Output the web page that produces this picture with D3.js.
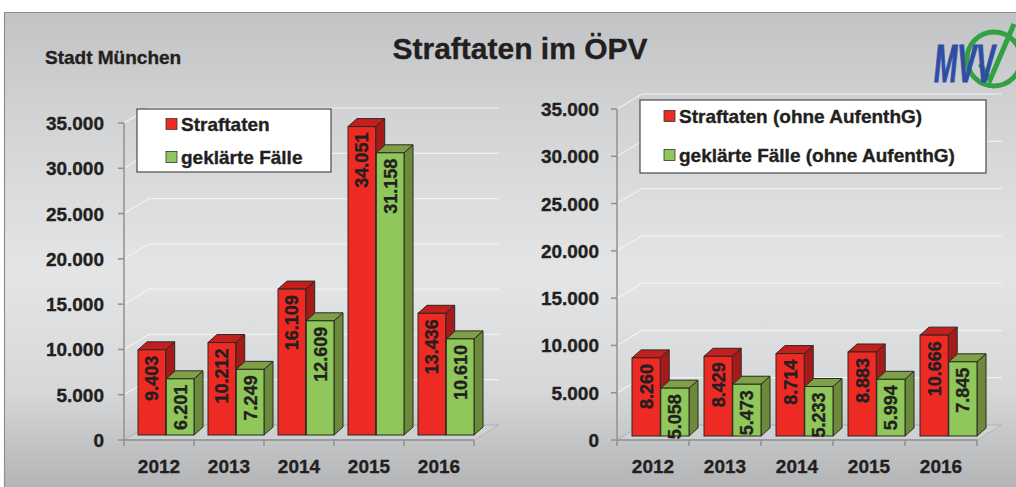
<!DOCTYPE html>
<html><head><meta charset="utf-8">
<script src="https://cdn.jsdelivr.net/npm/d3@7"></script>
<style>
html,body{margin:0;padding:0;background:#fff;}
svg{display:block;font-family:"Liberation Sans",Arial,sans-serif;}
svg text.t{stroke:#231f20;stroke-width:0.35px;}
</style></head>
<body>
<svg id="chart" width="1016" height="487"></svg>
<script>
// ---- data ----
const years = ["2012","2013","2014","2015","2016"];
const straftaten = [9403, 10212, 16109, 34051, 13436];
const geklaert = [6201, 7249, 12609, 31158, 10610];
const straftatenOhne = [8260, 8429, 8714, 8883, 10666];
const geklaertOhne = [5058, 5473, 5233, 5994, 7845];
const yTicks = [0, 5000, 10000, 15000, 20000, 25000, 30000, 35000];
const legendLeft = ["Straftaten", "geklärte Fälle"];
const legendRight = ["Straftaten (ohne AufenthG)", "geklärte Fälle (ohne AufenthG)"];
const title = "Straftaten im ÖPV";
const subtitle = "Stadt München";

const de = d3.formatLocale({decimal: ",", thousands: ".", grouping: [3], currency: ["", " €"]});
const fmt = de.format(",d");

const svg = d3.select("#chart");
const defs = svg.append("defs");
const bg = defs.append("linearGradient").attr("id","bg").attr("x1",0).attr("y1",0).attr("x2",0).attr("y2",1);
[[0,"#c2c3c5"],[0.22,"#d2d3d5"],[0.55,"#e4e5e6"],[0.8,"#d6d7d9"],[1,"#b3b4b6"]].forEach(([o,c])=>bg.append("stop").attr("offset",o).attr("stop-color",c));

svg.append("rect").attr("x",4).attr("y",12).attr("width",1012).attr("height",475).attr("fill","url(#bg)");
svg.append("path").attr("d","M4.5,487 V12.5 H1016").attr("fill","none").attr("stroke","#8e8f91").attr("stroke-width",1.2);

const ink = "#231f20";
const colors = {
  red: {front:"#ee2a24", top:"#c21f1e", side:"#a51b1b"},
  green: {front:"#8fc75a", top:"#7f9f48", side:"#6c8a3c"}
};
const depth = {dx: 9, dy: -8};
const floorD = {dx: 25, dy: -15};

function panel(cfg){
  const g = svg.append("g");
  const x = d3.scaleBand().domain(years).range([cfg.x0, cfg.x1]).padding(0);
  const y = d3.scaleLinear().domain([0, 35000]).range([440, cfg.yTop]);
  const sub = d3.scaleBand().domain(["a","b"]).range(cfg.sub).paddingInner(0.02);

  // floor
  g.append("path")
    .attr("d", `M${cfg.x0},440 L${cfg.x1},440 L${cfg.x1+floorD.dx},${440+floorD.dy} L${cfg.x0+floorD.dx},${440+floorD.dy} Z`)
    .attr("fill","#cfd0d2").attr("stroke","#b4b5b7").attr("stroke-width",1);

  // gridlines (side wall + back wall)
  yTicks.forEach(v=>{
    const yy = y(v);
    g.append("path")
      .attr("d", `M${cfg.x0},${yy} L${cfg.x0+floorD.dx},${yy+floorD.dy} L${cfg.x1+floorD.dx},${yy+floorD.dy}`)
      .attr("fill","none").attr("stroke", v===0 ? "#b8b9bb" : "#f4f4f4").attr("stroke-width",1.2).attr("opacity",0.9);
  });

  // legend
  const lg = g.append("g");
  lg.append("rect").attr("x",cfg.leg.x).attr("y",cfg.leg.y).attr("width",cfg.leg.w).attr("height",cfg.leg.h)
    .attr("fill","#fff").attr("stroke","#4a4a4a").attr("stroke-width",1.2);
  cfg.legendNames.forEach((name,i)=>{
    const cy = cfg.leg.rows[i];
    lg.append("rect").attr("x",cfg.leg.mx).attr("y",cy-5.5).attr("width",11).attr("height",11)
      .attr("fill", i===0 ? colors.red.front : colors.green.front).attr("stroke","#333").attr("stroke-width",0.8);
    lg.append("text").attr("class","t").attr("x",cfg.leg.mx+15).attr("y",cy+7).text(name)
      .attr("font-size",19).attr("font-weight","bold").attr("fill",ink);
  });

  // y axis
  g.append("line").attr("x1",cfg.x0).attr("x2",cfg.x0).attr("y1",y(35000)).attr("y2",440)
    .attr("stroke","#8f9092").attr("stroke-width",1.5);
  yTicks.forEach(v=>{
    g.append("line").attr("x1",cfg.x0-6).attr("x2",cfg.x0).attr("y1",y(v)).attr("y2",y(v))
      .attr("stroke","#8f9092").attr("stroke-width",1.5);
    g.append("text").attr("class","t").attr("x",cfg.labelX).attr("y",y(v)+7).attr("text-anchor","end")
      .attr("font-size",19).attr("font-weight","bold").attr("fill",ink).text(fmt(v));
  });
  // x axis
  g.append("line").attr("x1",cfg.x0).attr("x2",cfg.x1).attr("y1",440).attr("y2",440)
    .attr("stroke","#8f9092").attr("stroke-width",1.5);
  [...years.map(d=>x(d)), cfg.x1].forEach(xx=>{
    g.append("line").attr("x1",xx).attr("x2",xx).attr("y1",440).attr("y2",446)
      .attr("stroke","#8f9092").attr("stroke-width",1.5);
  });
  years.forEach(yr=>{
    g.append("text").attr("class","t").attr("x",x(yr)+x.bandwidth()/2).attr("y",473).attr("text-anchor","middle")
      .attr("font-size",19).attr("font-weight","bold").attr("fill",ink).text(yr);
  });

  // bars
  const base = 440 + cfg.barLift;
  years.forEach((yr,i)=>{
    [[cfg.s1[i],"a",colors.red],[cfg.s2[i],"b",colors.green]].forEach(([val,key,col])=>{
      const bx = x(yr) + sub(key), bw = sub.bandwidth();
      const top = y(val) + cfg.barLift;
      const bg2 = g.append("g");
      bg2.append("path").attr("d",`M${bx+bw},${top} L${bx+bw+depth.dx},${top+depth.dy} L${bx+bw+depth.dx},${base+depth.dy} L${bx+bw},${base} Z`)
        .attr("fill",col.side).attr("stroke","#2a2a20").attr("stroke-width",1).attr("stroke-linejoin","round");
      bg2.append("path").attr("d",`M${bx},${top} L${bx+depth.dx},${top+depth.dy} L${bx+bw+depth.dx},${top+depth.dy} L${bx+bw},${top} Z`)
        .attr("fill",col.top).attr("stroke","#2a2a20").attr("stroke-width",1).attr("stroke-linejoin","round");
      bg2.append("rect").attr("x",bx).attr("y",top).attr("width",bw).attr("height",base-top)
        .attr("fill",col.front).attr("stroke","#2a2a20").attr("stroke-width",1);
      bg2.append("text").attr("class","t")
        .attr("transform",`translate(${bx+bw/2+6.5},${top+6}) rotate(-90)`)
        .attr("text-anchor","end").attr("font-size",18).attr("font-weight","bold").attr("fill",ink)
        .text(fmt(val));
    });
  });
}

panel({x0:124, x1:474, yTop:123, sub:[14,70], labelX:104, barLift:-5,
  s1:straftaten, s2:geklaert, legendNames:legendLeft,
  leg:{x:137, y:109, w:194, h:63, mx:166, rows:[124,157]}});
panel({x0:617, x1:977, yTop:109, sub:[15,72], labelX:599, barLift:-4,
  s1:straftatenOhne, s2:geklaertOhne, legendNames:legendRight,
  leg:{x:640, y:100, w:346, h:73, mx:664, rows:[116,155]}});

// titles
svg.append("text").attr("class","t").attr("x",520).attr("y",59).attr("text-anchor","middle")
  .attr("font-size",30).attr("font-weight","bold").attr("fill",ink).text(title);
svg.append("text").attr("class","t").attr("x",45).attr("y",64)
  .attr("font-size",19).attr("font-weight","bold").attr("fill",ink).text(subtitle);

// MVV logo
const logo = svg.append("g");
logo.append("ellipse").attr("cx",994).attr("cy",59).attr("rx",27).attr("ry",27)
  .attr("fill","none").attr("stroke","#33a043").attr("stroke-width",5);
logo.append("path").attr("d","M980,64 L990,80 L1014,24").attr("fill","none").attr("stroke","#33a043").attr("stroke-width",5);
logo.append("text").attr("transform","translate(934,82) scale(1,1.9)")
  .attr("font-size",28).attr("font-weight","bold").attr("font-style","italic")
  .attr("fill","#2d4ea3").attr("stroke","#2d4ea3").attr("stroke-width",0.6).text("MVV");
</script>
</body></html>
